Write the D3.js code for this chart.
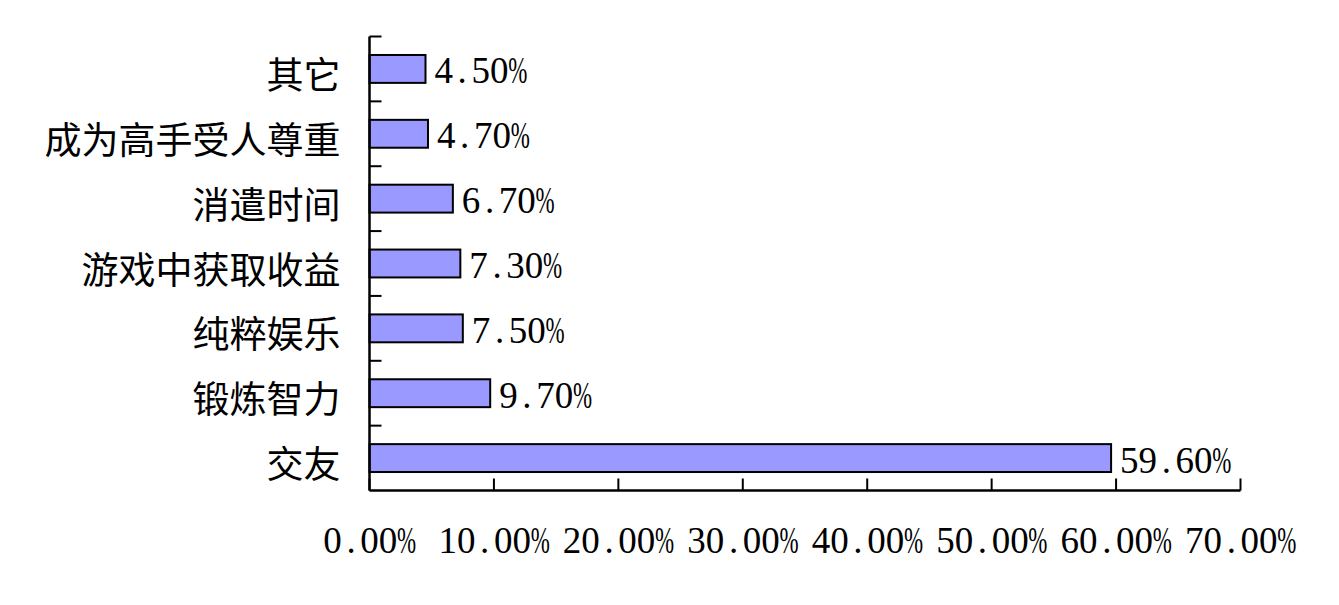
<!DOCTYPE html>
<html><head><meta charset="utf-8">
<script src="https://cdn.jsdelivr.net/npm/d3@7"></script>
<style>body{margin:0;background:#fff}svg{display:block}</style>
</head><body>
<svg id="c" width="1339" height="605"></svg>
<script>
const categories = ["其它","成为高手受人尊重","消遣时间","游戏中获取收益","纯粹娱乐","锻炼智力","交友"];
const values = [4.5, 4.7, 6.7, 7.3, 7.5, 9.7, 59.6];
const xTicks = [0,10,20,30,40,50,60,70];

const svg = d3.select("#c");
const mLeft = 369.5, mRight = 1240.5, mTop = 36.5, mBottom = 490.5;
const x = d3.scaleLinear().domain([0,70]).range([mLeft,mRight]);
const y = d3.scaleBand().domain(categories).range([mTop,mBottom]).paddingInner(0.57).paddingOuter(0.285);
const yb = d3.scaleBand().domain(categories).range([mTop,mBottom]);

const numFont = "'Liberation Serif','Times New Roman',serif";
const cjkFont = "'Noto Sans CJK SC','Noto Sans CJK JP',sans-serif";
const fs = 37, cw = 18.5;

// place each character in a fixed half-width cell (like SimSun); '%' is squeezed into its cell
function cellText(g, s, startX, baseY) {
  const chars = Array.from(s);
  const body = chars.slice(0, -1);
  g.append("text")
    .attr("x", body.map((c,i)=> startX + cw*i + cw/2).join(" "))
    .attr("y", baseY).attr("text-anchor","middle")
    .attr("font-family",numFont).attr("font-size",fs).attr("fill","#000")
    .text(body.join(""));
  const px = startX + cw*body.length + cw/2;
  g.append("text")
    .attr("transform", `translate(${px},${baseY}) scale(0.62,1)`)
    .attr("text-anchor","middle")
    .attr("font-family",numFont).attr("font-size",fs).attr("fill","#000")
    .text(chars[chars.length-1]);
}

// bars
svg.append("g").selectAll("rect").data(values).join("rect")
  .attr("x", x(0))
  .attr("y", (d,i)=>y(categories[i]))
  .attr("width", d=>x(d)-x(0))
  .attr("height", y.bandwidth())
  .attr("fill","#9999FF").attr("stroke","#000").attr("stroke-width",2);

// y axis
const gy = svg.append("g").attr("transform",`translate(${mLeft},0)`);
gy.append("line").attr("x1",0).attr("x2",0).attr("y1",mTop).attr("y2",mBottom).attr("stroke","#000").attr("stroke-width",2.5);
const yTickPos = categories.map(c=>yb(c));
gy.selectAll("line.t").data(yTickPos).join("line").attr("class","t")
  .attr("x1",0).attr("x2",12).attr("y1",d=>d).attr("y2",d=>d).attr("stroke","#000").attr("stroke-width",2);
gy.selectAll("text").data(categories).join("text")
  .attr("x",-29).attr("y",d=>yb(d)+yb.bandwidth()/2+4)
  .attr("text-anchor","end").attr("dominant-baseline","central")
  .attr("font-family",cjkFont).attr("font-size",37).attr("fill","#000")
  .text(d=>d);

// x axis
const gx = svg.append("g").attr("transform",`translate(0,${mBottom})`);
gx.append("line").attr("x1",mLeft).attr("x2",mRight).attr("y1",0).attr("y2",0).attr("stroke","#000").attr("stroke-width",2.5);
gx.selectAll("line.t").data(xTicks).join("line").attr("class","t")
  .attr("x1",d=>x(d)).attr("x2",d=>x(d)).attr("y1",0).attr("y2",-12).attr("stroke","#000").attr("stroke-width",2);
gx.selectAll("g.lbl").data(xTicks).join("g").attr("class","lbl")
  .each(function(d){
    const s = d.toFixed(2)+"%";
    cellText(d3.select(this), s, x(d) - s.length*cw/2, 62);
  });

// value labels
svg.append("g").selectAll("g").data(values).join("g")
  .each(function(d,i){
    const s = d.toFixed(2)+"%";
    cellText(d3.select(this), s, x(d)+9, yb(categories[i])+yb.bandwidth()/2+14.5);
  });
</script>
</body></html>
